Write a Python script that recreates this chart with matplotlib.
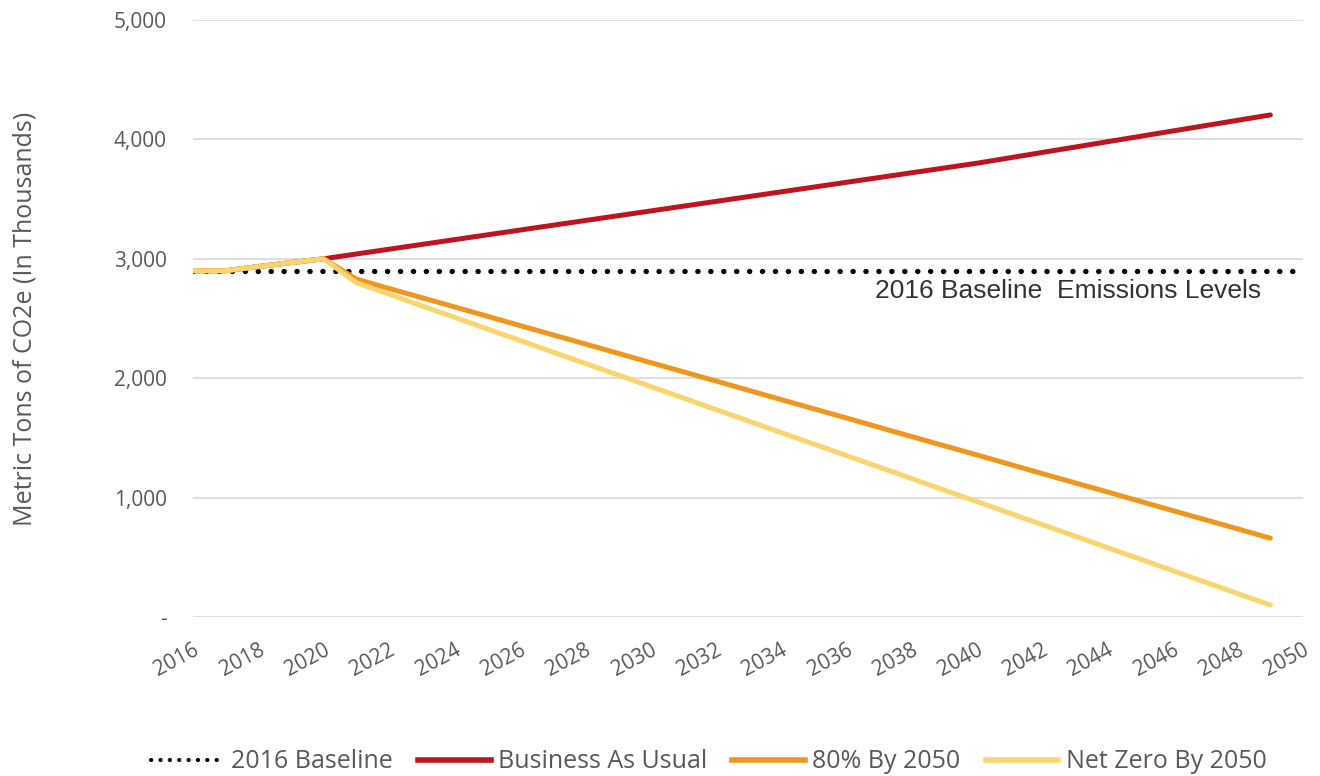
import matplotlib
matplotlib.use("Agg")
import matplotlib.pyplot as plt
from matplotlib.lines import Line2D

plt.rcParams['font.family'] = ['Open Sans', 'DejaVu Sans']

# data (thousands of metric tons CO2e)
years = list(range(2016, 2050))
baseline_years = list(range(2016, 2051))
baseline = [2900] * len(baseline_years)
bau = [2900, 2900, 2935, 2968, 3000,
       3040, 3080, 3120, 3160, 3200, 3240, 3280, 3320, 3360, 3400,
       3440, 3480, 3520, 3560, 3600, 3640, 3680, 3720, 3760, 3800,
       3845, 3890, 3935, 3980, 4025, 4070, 4115, 4160, 4205]
eighty = [2900, 2900, 2935, 2968, 3000,
          2830, 2752, 2675, 2598, 2520, 2442, 2365, 2288, 2210, 2132,
          2055, 1978, 1900, 1822, 1745, 1668, 1590, 1512, 1435, 1358,
          1280, 1202, 1125, 1048, 970, 892, 815, 738, 660]
netzero = [2900, 2900, 2935, 2968, 3000,
           2800, 2704, 2607, 2511, 2414, 2318, 2221, 2125, 2029, 1932,
           1836, 1739, 1643, 1546, 1450, 1354, 1257, 1161, 1064, 968,
           871, 775, 679, 582, 486, 389, 293, 196, 100]
xticks = list(range(2016, 2051, 2))
yticks = [0, 1000, 2000, 3000, 4000, 5000]
ytick_labels = ['-', '1,000', '2,000', '3,000', '4,000', '5,000']
names = ['2016 Baseline', 'Business As Usual', '80% By 2050', 'Net Zero By 2050']

gray = '#595959'
red = '#BE1420'
orange = '#F0961C'
yellow = '#FAD46E'

fig = plt.figure(figsize=(13.2, 7.76), dpi=100)
ax = fig.add_axes([193/1320, 1-617/776, 1110/1320, 597/776])

ax.plot(baseline_years, baseline, color='black', lw=3.8, linestyle=(0, (0.05, 2.4)),
        dash_capstyle='round', zorder=2)
ax.plot(years, bau, color=red, lw=3.6, solid_capstyle='round', zorder=3)
ax.plot(years, eighty, color=orange, lw=3.6, solid_capstyle='round', zorder=4)
ax.plot(years, netzero, color=yellow, lw=3.6, solid_capstyle='round', zorder=5)

ax.text(1068, 776-298, '2016 Baseline  Emissions Levels', transform=None,
        ha='center', va='baseline', fontsize=19, color='#333333',
        family=['Liberation Sans', 'DejaVu Sans'])

ax.set_xlim(2016, 2050)
ax.set_ylim(0, 5000)
ax.set_yticks(yticks)
ax.set_yticklabels(ytick_labels)
ax.set_xticks(xticks)
ax.set_xticklabels([str(y) for y in xticks], rotation=28, ha='right',
                   va='top', rotation_mode='anchor')
ax.tick_params(axis='y', length=0, pad=19, labelsize=15, labelcolor=gray)
ax.tick_params(axis='x', length=0, pad=16, labelsize=15, labelcolor=gray)
ax.yaxis.grid(True, color='#D9D9D9', lw=1.2)
ax.set_axisbelow(True)
for s in ax.spines.values():
    s.set_visible(False)

ax.set_ylabel('Metric Tons of CO2e (In Thousands)', fontsize=18, color=gray)
ax.yaxis.set_label_coords(-155/1110, 0.5)

handles = [Line2D([], [], color='black', lw=3, linestyle=(0, (0.05, 2.2)), dash_capstyle='round'),
           Line2D([], [], color=red, lw=4),
           Line2D([], [], color=orange, lw=4),
           Line2D([], [], color=yellow, lw=4)]
leg = fig.legend(handles, names, loc='center', bbox_to_anchor=(0.537, 1-762/776),
                 ncol=4, frameon=False, fontsize=18, handlelength=2.9,
                 handletextpad=0.3, columnspacing=1.0)
for t in leg.get_texts():
    t.set_color(gray)

fig.savefig('out.png', dpi=100)
